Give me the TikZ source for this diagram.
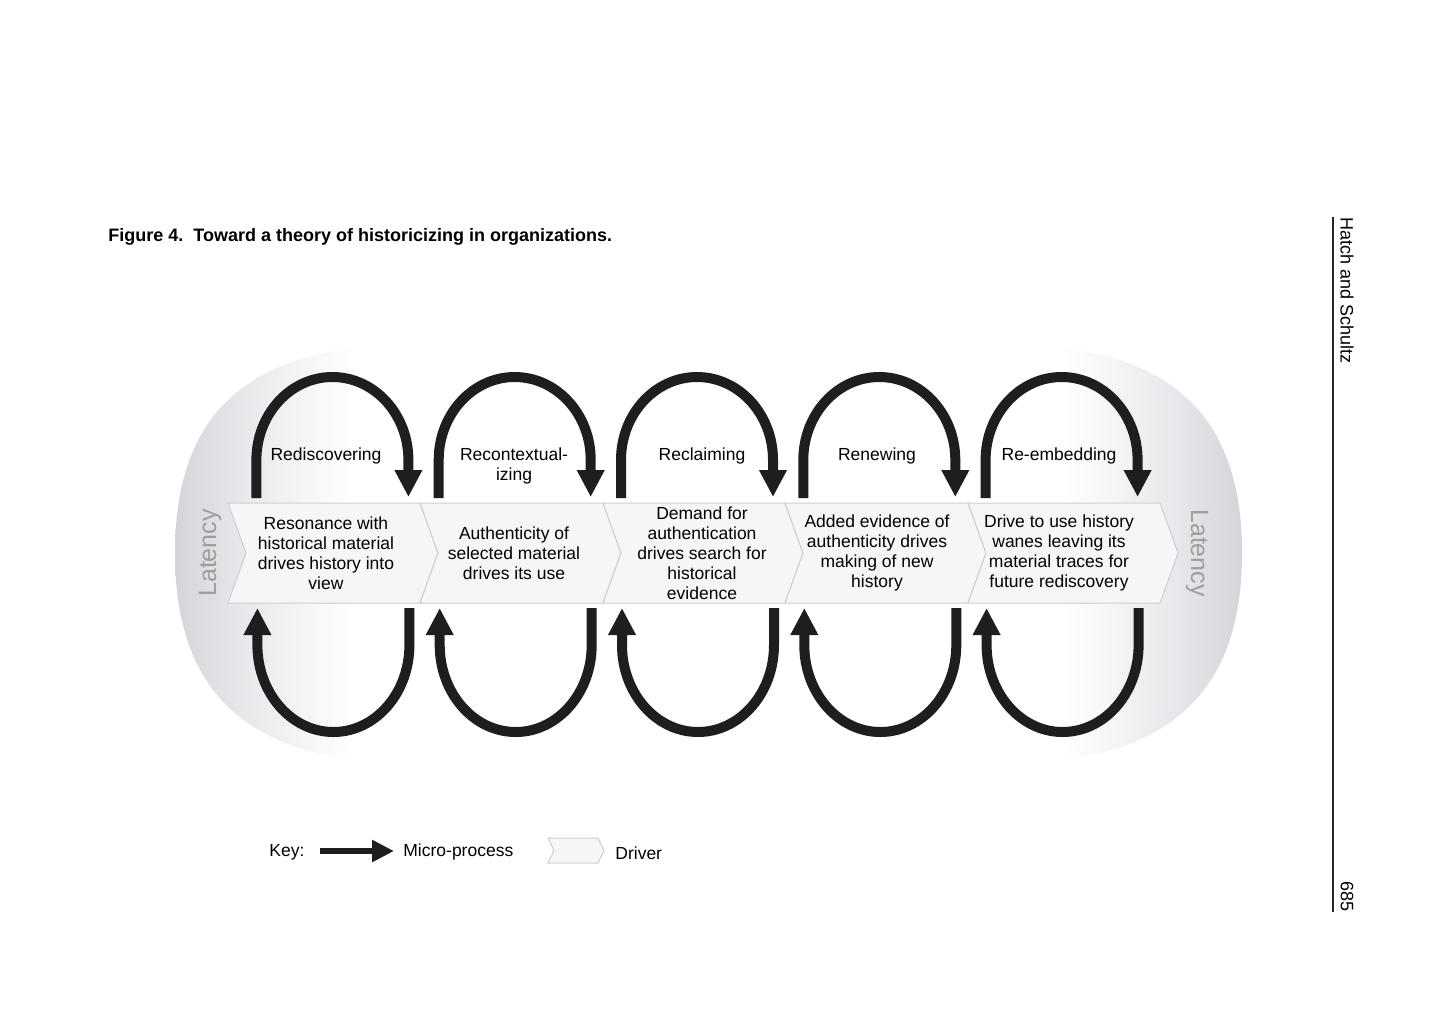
\documentclass[tikz,border=0pt]{standalone}
\usepackage{fontspec}
\setmainfont{Liberation Sans}
\usetikzlibrary{arrows.meta,positioning}
\definecolor{drvfill}{RGB}{245,246,246}
\definecolor{drvline}{RGB}{205,207,208}
\definecolor{loopcol}{RGB}{30,30,30}
\definecolor{halo1}{RGB}{212,213,217}
\definecolor{halo2}{RGB}{230,231,234}
\definecolor{halo3}{RGB}{245,245,246}
\pgfdeclarehorizontalshading{latency}{100bp}{color(0bp)=(halo1); color(25bp)=(halo1); color(28bp)=(halo2); color(31bp)=(halo3); color(33.5bp)=(white); color(66.5bp)=(white); color(69bp)=(halo3); color(72bp)=(halo2); color(75bp)=(halo1); color(100bp)=(halo1)}

\begin{document}
\begin{tikzpicture}[
    x=0.5pt, y=-0.5pt,
    driver/.style={fill=drvfill, draw=drvline, line width=0.5pt, line join=miter},
    drvtext/.style={align=center, inner sep=0pt, font=\fontsize{8.75}{10}\selectfont},
    lbl/.style={align=center, inner sep=0pt, font=\fontsize{8.75}{10}\selectfont},
    latency/.style={inner sep=0pt, text=black!38, font=\fontsize{12.5}{15}\selectfont},
    micro/.style={-{Triangle[width=13pt,length=13.5pt]}, line width=5pt, draw=loopcol},
    keyarr/.style={-{Triangle[width=10.5pt,length=11pt]}, line width=3pt, draw=loopcol},
    side/.style={inner sep=0pt, font=\fontsize{9}{11}\selectfont}
]
\useasboundingbox (0,0) rectangle (1440,1008);

% latency halo
\shade[shading=latency] (175,553) .. controls (175,710) and (267,764) .. (420,764)
  -- (997,764) .. controls (1150,764) and (1242,710) .. (1242,553)
  .. controls (1242,396) and (1150,344) .. (997,344)
  -- (420,344) .. controls (267,344) and (175,396) .. cycle;

% drivers
\foreach \xa/\xb in {228/420, 420/603, 603/785, 785/968, 968/1160}
  \filldraw[driver] (\xa,503) -- (\xb,503) -- ++(18,50) -- (\xb,603) -- (\xa,603) -- ++(18,-50) -- cycle;

\node[drvtext] (dr1) at (326,553) {Resonance with\\historical material\\drives history into\\view};
\node[drvtext] (dr2) at (514,553) {Authenticity of\\selected material\\drives its use};
\node[drvtext] (dr3) at (702,553) {Demand for\\authentication\\drives search for\\historical\\evidence};
\node[drvtext] (dr4) at (877,553) {Added evidence of\\authenticity drives\\making of new\\history};
\node[drvtext] (dr5) at (1059,553) {Drive to use history\\wanes leaving its\\material traces for\\future rediscovery};

\node[latency, rotate=90] (latL) at (210,553) {Latency};
\node[latency, rotate=-90] (latR) at (1197,553) {Latency};

% micro-processes
\node[lbl] (mp1) at (326,456) {Rediscovering};
\node[lbl] (mp2) at (514,466) {Recontextual-\\izing};
\node[lbl] (mp3) at (702,456) {Reclaiming};
\node[lbl] (mp4) at (877,456) {Renewing};
\node[lbl] (mp5) at (1059,456) {Re-embedding};

\foreach \i in {1,...,5}{
  \coordinate (ts\i) at ({256.4+182.3*(\i-1)},498);
  \coordinate (te\i) at ({408.4+182.3*(\i-1)},497);
  \coordinate (bs\i) at ({409.4+182.3*(\i-1)},608);
  \coordinate (be\i) at ({257.4+182.3*(\i-1)},608);
  \draw[micro] (ts\i) -- ++(0,-38) arc[start angle=180, end angle=0, x radius=38pt, y radius=41.5pt] -- (te\i);
  \draw[micro] (bs\i) -- ++(0,37) arc[start angle=0, end angle=-180, x radius=38pt, y radius=43.5pt] -- (be\i);
}

% key
\node[lbl, anchor=west] (key) at (269,852) {Key:};
\coordinate (ka) at (320,851);
\coordinate (kb) at (394,851);
\draw[keyarr] (ka) -- (kb);
\node[lbl, anchor=west] (keymp) at (403,852) {Micro-process};
\filldraw[driver] (548,838) -- (598,838) -- ++(6,12.5) -- (598,863) -- (548,863) -- ++(6,-12.5) -- cycle;
\node[lbl, anchor=west] (keydr) at (615,853) {Driver};

% title and running head
\node[anchor=base west, inner sep=0pt, font=\fontsize{9}{11}\selectfont\bfseries] (title) at (108,241)
  {Figure 4.\ \ Toward a theory of historicizing in organizations.};
\coordinate (rtop) at (1333,217);
\coordinate (rbot) at (1333,912);
\draw[line width=0.6pt, black!85] (rtop) -- (rbot);
\node[side, rotate=-90, anchor=west] (head) at (1347,217) {Hatch and Schultz};
\node[side, rotate=-90, anchor=east] (page) at (1347,912) {685};
\end{tikzpicture}
\end{document}
